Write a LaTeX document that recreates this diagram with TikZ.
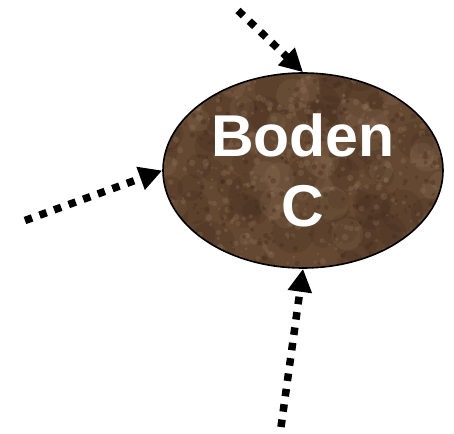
\documentclass[tikz,border=0pt]{standalone}
\usepackage{fontspec}
\setmainfont{Liberation Sans}
\usetikzlibrary{shapes.geometric,arrows.meta}
\definecolor{soilbase}{RGB}{100,72,50}
\definecolor{soildark}{RGB}{58,36,22}
\definecolor{soillight}{RGB}{165,135,105}
\tikzset{
  soilnode/.style={ellipse, draw=black, line width=1.6pt, fill=soilbase,
    minimum width=280pt, minimum height=195pt, inner sep=0pt,
    text=white, font=\bfseries\fontsize{59}{70}\selectfont, align=center},
  dotarrow/.style={line width=7.5pt, dash pattern=on 7.5pt off 8pt,
    -{Triangle[length=23pt,width=23pt]}}
}
\begin{document}
\begin{tikzpicture}[x=1pt,y=-1pt]
\useasboundingbox (0,0) rectangle (454,433);
\pgfmathsetseed{11}
\node[soilnode, path picture={
  \foreach \i in {1,...,70}{
    \pgfmathsetmacro\px{rnd*300-150}
    \pgfmathsetmacro\py{rnd*210-105}
    \pgfmathsetmacro\pr{8+rnd*16}
    \fill[soildark, opacity=0.18] ([shift={(\px,\py)}]path picture bounding box.center) circle (\pr);
  }
  \foreach \i in {1,...,40}{
    \pgfmathsetmacro\px{rnd*300-150}
    \pgfmathsetmacro\py{rnd*210-105}
    \pgfmathsetmacro\pr{6+rnd*12}
    \fill[soillight, opacity=0.15] ([shift={(\px,\py)}]path picture bounding box.center) circle (\pr);
  }
  \foreach \i in {1,...,450}{
    \pgfmathsetmacro\px{rnd*300-150}
    \pgfmathsetmacro\py{rnd*210-105}
    \pgfmathsetmacro\pr{1+rnd*2.5}
    \fill[soillight, opacity=0.22] ([shift={(\px,\py)}]path picture bounding box.center) circle (\pr);
  }
  \foreach \i in {1,...,350}{
    \pgfmathsetmacro\px{rnd*300-150}
    \pgfmathsetmacro\py{rnd*210-105}
    \pgfmathsetmacro\pr{0.8+rnd*2}
    \fill[soildark, opacity=0.3] ([shift={(\px,\py)}]path picture bounding box.center) circle (\pr);
  }
}] (soil) at (303,170.5) {Boden\\C};
\coordinate (s1) at (238,10.5);
\coordinate (s2) at (25,220.5);
\coordinate (s3) at (281,427);
\draw[dotarrow] (s1) -- (soil.north);
\draw[dotarrow] (s2) -- (soil.west);
\draw[dotarrow] (s3) -- (soil.south);
\end{tikzpicture}
\end{document}
